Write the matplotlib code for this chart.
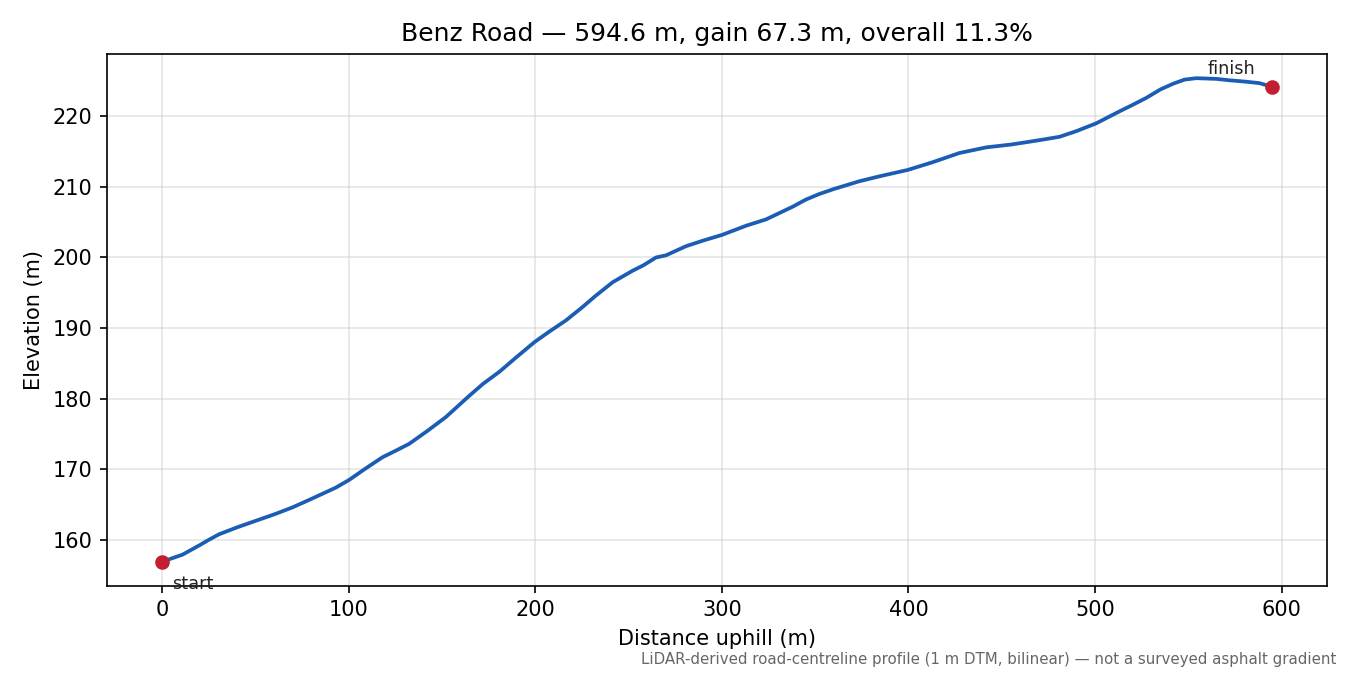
import numpy as np
import matplotlib
matplotlib.use("Agg")
import matplotlib.pyplot as plt

# profile (distance uphill, elevation)
dist = [0, 10.9, 20.5, 25.0, 30.6, 40.5, 50.2, 60.0, 69.9, 80.0, 93.1, 100.3, 109.0, 118.1,
        125.0, 132.4, 142.0, 152.1, 160.0, 164.6, 172.0, 180.7, 190.0, 199.5, 207.5, 216.5,
        225.4, 232.0, 241.5, 252.0, 258.0, 264.7, 270.0, 280.8, 290.0, 300.1, 313.0, 323.7,
        338.0, 345.0, 352.3, 360.0, 373.7, 384.5, 399.6, 413.0, 427.3, 441.7, 455.0, 464.9,
        472.0, 481.0, 490.0, 500.6, 513.1, 520.0, 527.4, 535.0, 541.7, 548.0, 554.3, 565.0,
        572.0, 581.0, 588.0, 594.6]
elev = [156.9, 157.9, 159.3, 160.0, 160.8, 161.8, 162.7, 163.6, 164.6, 165.8, 167.4, 168.5, 170.1, 171.7,
        172.6, 173.6, 175.4, 177.4, 179.3, 180.4, 182.1, 183.8, 185.9, 188.0, 189.5, 191.1,
        193.0, 194.5, 196.5, 198.1, 198.9, 200.0, 200.3, 201.6, 202.4, 203.2, 204.5, 205.4,
        207.2, 208.2, 209.0, 209.7, 210.8, 211.5, 212.4, 213.5, 214.8, 215.6, 216.0, 216.4,
        216.7, 217.1, 217.9, 219.0, 220.7, 221.6, 222.6, 223.8, 224.6, 225.2, 225.4, 225.3,
        225.1, 224.9, 224.7, 224.2]

total_len = 594.6
gain = 67.3
grade = 11.3

fig, ax = plt.subplots(figsize=(9, 4.5), dpi=150)
fig.subplots_adjust(left=0.079, right=0.983, top=0.92, bottom=0.132)

ax.plot(dist, elev, color="#1c5db4", lw=1.8, zorder=2)
ax.scatter([dist[0], dist[-1]], [elev[0], elev[-1]], color="#c21f30", s=36, zorder=3)

ax.annotate("start", (dist[0], elev[0]), xytext=(5, -13), textcoords="offset points",
            fontsize=8.5, color="#222222")
ax.annotate("finish", (dist[-1], elev[-1]), xytext=(-8, 6), textcoords="offset points",
            fontsize=8.5, color="#222222", ha="right")

ax.grid(True, color="#cccccc", lw=0.8, alpha=0.5)
ax.set_axisbelow(True)
ax.set_xlabel("Distance uphill (m)")
ax.set_ylabel("Elevation (m)")
ax.set_title(f"Benz Road \u2014 {total_len} m, gain {gain} m, overall {grade}%", fontsize=12)

fig.text(0.99, 0.012, "LiDAR-derived road-centreline profile (1 m DTM, bilinear) \u2014 not a surveyed asphalt gradient",
         ha="right", va="bottom", fontsize=7.2, color="#666666")

fig.savefig("out.png", dpi=150)
